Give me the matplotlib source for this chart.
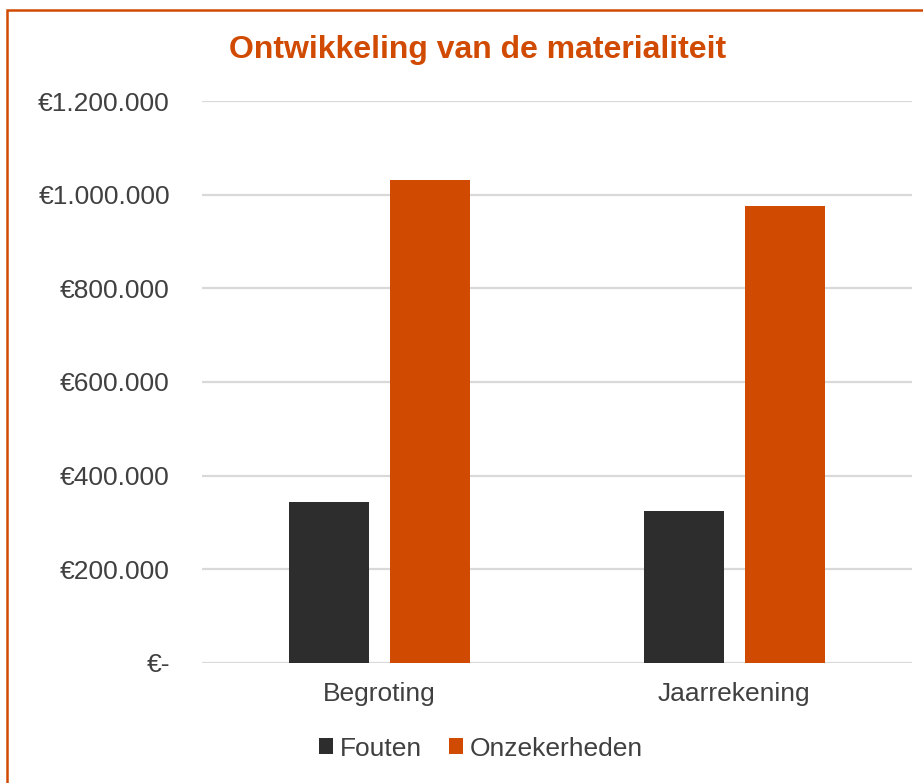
import matplotlib.pyplot as plt
import numpy as np
from matplotlib.patches import Rectangle
from matplotlib.ticker import FuncFormatter

plt.rcParams['font.family'] = ['Liberation Sans', 'DejaVu Sans']

categories = ['Begroting', 'Jaarrekening']
series_names = ['Fouten', 'Onzekerheden']
fouten = [344000, 325000]
onzekerheden = [1031000, 976000]
colors = ['#2D2D2D', '#D04A02']
text_color = '#404040'

fig = plt.figure(figsize=(9.23, 7.83), dpi=100)
ax = fig.add_axes([0.2188, 0.1533, 0.7692, 0.7177])

x = np.arange(len(categories)) + 0.5
w = 0.225
off = 0.142
b1 = ax.bar(x - off, fouten, w, color=colors[0], zorder=3)
b2 = ax.bar(x + off, onzekerheden, w, color=colors[1], zorder=3)

ax.set_xlim(0, 2)
ax.set_ylim(0, 1200000)
ax.set_yticks(np.arange(0, 1200001, 200000))


def euro(v, pos):
    if v == 0:
        return '€-'
    return '€' + f'{int(v):,}'.replace(',', '.')


ax.yaxis.set_major_formatter(FuncFormatter(euro))
ax.grid(axis='y', color='#D9D9D9', linewidth=1.6, zorder=0)
for s in ax.spines.values():
    s.set_visible(False)
ax.tick_params(axis='both', length=0, labelsize=19, colors=text_color)
ax.tick_params(axis='y', pad=23)
ax.tick_params(axis='x', pad=14)
ax.set_xticks(x)
ax.set_xticklabels(categories)

fig.text(0.517, 0.936, 'Ontwikkeling van de materialiteit', ha='center', va='center',
         fontsize=23, fontweight='bold', color='#D04A02')

fig.legend([b1, b2], series_names, loc='center', bbox_to_anchor=(0.521, 0.044),
           ncol=2, frameon=False, fontsize=19, labelcolor=text_color,
           handlelength=0.55, handleheight=0.55, handletextpad=0.25, columnspacing=1.0)

# outer chart border, open towards right and bottom edges
fig.add_artist(Rectangle((7 / 923, -0.1), 1.2, 1.1 - 10 / 783, transform=fig.transFigure,
                         fill=False, edgecolor='#D04A02', linewidth=1.8, clip_on=False))

fig.savefig('out.png', dpi=100)
